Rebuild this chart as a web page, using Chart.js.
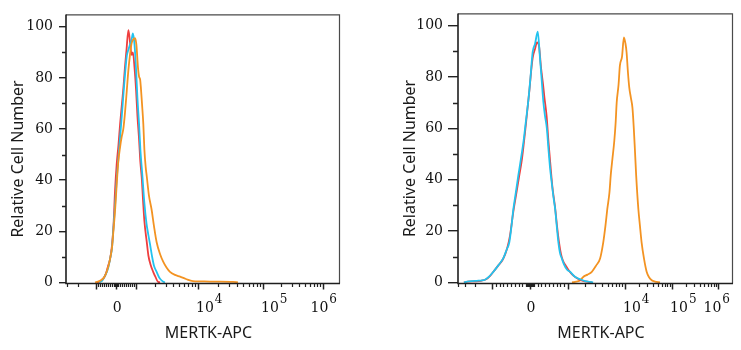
<!DOCTYPE html>
<html>
<head>
<meta charset="utf-8">
<script src="https://cdn.jsdelivr.net/npm/chart.js@4.4.1/dist/chart.umd.min.js"></script>
<style>
  html, body { margin: 0; padding: 0; background: #ffffff; }
  #wrap { position: relative; width: 741px; height: 350px; background: #ffffff; }
  .panel { position: absolute; top: 0; height: 350px; }
</style>
</head>
<body>
<div id="wrap">
  <div class="panel" style="left:0px;width:370px;"><canvas id="cLeft" width="370" height="350"></canvas></div>
  <div class="panel" style="left:370px;width:371px;"><canvas id="cRight" width="371" height="350"></canvas></div>
</div>
<script>
// ---------------- DATA (x = display channel 0..1024, y = % of max) ----------------
const xTitle = "MERTK-APC";
const yTitle = "Relative Cell Number";
const yTickValues = [0, 20, 40, 60, 80, 100];
const yMinorValues = [10, 30, 50, 70, 90];
const xMajorValues = [-1000, 0, 1000, 1e4, 1e5, 1e6];
const xLabelValues = [0, 1e4, 1e5, 1e6];
const xLabelExps = [null, "4", "5", "6"];
// channel positions of 0, 1e3, 1e4, 1e5, 1e6 on each panel's biexponential axis
const leftDecadeCh = [188, 263, 495, 739, 964];
const rightDecadeCh = [269, 411, 624, 800, 972];

// Left panel
const leftRedX = [116,128,139,150,158,165,172,178,184,190,197,203,210,216,221,227,234,238,244,246,251,257,263,268,274,279,284,289,294,303,309,317,327,336,345,353];
const leftRedY = [0,0.3,1.2,3.5,6.5,9,14,22,36,46,54,62,70,77,84,91,98.7,96,90,89,90,84,75,65,56,47,41,32,24,15.7,10.5,7,4.1,2,0.2,0];
const leftCyanX = [124,135,146,158,165,173,177,184,190,197,203,210,218,228,234,240,246,251,257,263,268,274,279,287,294,302,309,315,323,330,340,349,356,365,371];
const leftCyanY = [0,0.6,2.5,5.5,9,14,20,30,40,49,57,66,77,88.5,91,93,95,97.4,93,83,72,62,52,41,31,23,18.5,15,10,6.5,4.1,2,1,0.2,0];
const leftOrangeX = [109,120,131,143,154,165,173,177,184,190,196,203,209,215,221,228,234,240,246,252,259,264,270,274,278,281,285,290,294,299,303,311,321,330,340,353,365,377,390,409,428,450,476,503,540,578,626,645];
const leftOrangeY = [0,0.3,0.8,2,4.5,9,14,19,28,38,47,53,57,60,66,75,83,89,93.5,95,95.5,93,84,80.5,79.4,76,70,62,52,45,41.4,34,28.5,22,15.7,11,8,5.8,4.1,2.9,2.2,1.3,0.5,0.4,0.3,0.3,0.2,0];

// Right panel
const rightRedX = [22,37,64,86,105,120,135,150,168,183,194,206,217,228,239,249,258,267,275,280,288,295,303,310,318,323,331,338,346,353,363,370,377,385,392,404,415,430,448,467,486,501];
const rightRedY = [0,0.3,0.4,0.6,1.2,2.5,4.5,6.5,9,13,18,27,34,41,48,57,66,75,84,88,91,93.5,92,84,77,72,65,55,45,37,29,22,16,11,8.5,6.3,4.5,2.7,1.4,0.6,0.2,0];
const rightCyanX = [22,34,52,71,86,101,116,132,150,169,181,192,200,207,216,225,235,245,254,263,271,279,288,298,306,312,319,325,332,338,344,349,357,363,369,375,381,388,396,407,419,437,456,475,493,505];
const rightCyanY = [0,0.3,0.5,0.6,0.7,1,2.2,4.1,6.5,9.3,12.5,15.7,22,28.6,35,41.4,48,55,63,71,80,89.7,93,97.7,88,80,70.3,65,60,52,44.6,40,33,28.6,22,15.7,11.5,9.3,7,5,4.1,2.2,1.2,0.5,0.2,0];
const rightOrangeX = [426,437,456,468,484,500,516,531,543,551,558,566,571,577,584,589,593,600,605,613,620,626,630,635,640,646,652,657,661,666,674,680,686,695,705,714,724,736,755];
const rightOrangeY = [0,0.2,0.7,2.1,3,4.1,6.5,9.3,15.7,22,28.6,35,42,48,55,62,70,77,84.5,88,95.5,93,89.7,82,76,72,68,60,52,41.4,28.6,22,15.7,9.3,4.1,2,0.8,0.3,0];

// ---------------- STYLE ----------------
const COL_RED = "#ef3e3e";
const COL_CYAN = "#22c3ef";
const COL_ORANGE = "#f39322";

function pts(xs, ys) { return xs.map((x, i) => ({ x: x, y: ys[i] })); }

// biexponential-like position (channel) of a fluorescence value, from the decade anchors
function posOf(v, A) {
  if (v === 0) return A[0];
  const s = Math.sign(v), a = Math.abs(v);
  let off;
  if (a <= 1000) {
    off = (A[1] - A[0]) * a / 1000;
  } else {
    const d = Math.log10(a);
    const i = Math.min(Math.floor(d), 5);
    const base = A[i - 2], next = A[i - 1];
    off = base - A[0] + (next - base) * (d - i);
  }
  return A[0] + s * off;
}

function minorValues() {
  const out = [];
  for (let k = 1; k <= 9; k++) {
    out.push(k * 10, -k * 10, k * 100, -k * 100);
  }
  for (let k = 2; k <= 9; k++) {
    out.push(k * 1000, -k * 1000, k * 1e4, k * 1e5);
  }
  return out;
}

function axisPlugin(cfg) {
  return {
    id: "flowAxes",
    afterDraw(chart) {
      const ctx = chart.ctx;
      const area = chart.chartArea;
      const xs = chart.scales.x, ys = chart.scales.y;
      ctx.save();
      // frame
      ctx.strokeStyle = "#4a4a4a";
      ctx.lineWidth = 1.2;
      ctx.beginPath();
      ctx.moveTo(area.left, area.top + 0.5);
      ctx.lineTo(area.right + 0.5, area.top + 0.5);
      ctx.lineTo(area.right + 0.5, area.bottom);
      ctx.stroke();
      ctx.strokeStyle = "#1e1e1e";
      ctx.lineWidth = 1.6;
      ctx.beginPath();
      ctx.moveTo(area.left, area.top);
      ctx.lineTo(area.left, area.bottom);
      ctx.lineTo(area.right + 1, area.bottom);
      ctx.stroke();

      // y minor ticks
      ctx.lineWidth = 1.3;
      ctx.strokeStyle = "#222";
      ctx.beginPath();
      yMinorValues.forEach(v => {
        const py = Math.round(ys.getPixelForValue(v)) + 0.5;
        ctx.moveTo(area.left - cfg.yMinorLen, py);
        ctx.lineTo(area.left, py);
      });
      ctx.stroke();

      // x ticks
      const drawX = (vals, len) => {
        ctx.beginPath();
        vals.forEach(v => {
          const px = xs.getPixelForValue(posOf(v, cfg.anchors));
          if (px < area.left - 0.5 || px > area.right + 0.5) return;
          const rx = Math.round(px) + 0.5;
          ctx.moveTo(rx, area.bottom);
          ctx.lineTo(rx, area.bottom + len);
        });
        ctx.stroke();
      };
      ctx.lineWidth = 1.2;
      drawX(minorValues(), 3.5);
      ctx.lineWidth = 1.5;
      drawX(xMajorValues, 6);

      // x labels
      ctx.fillStyle = "#111";
      ctx.textBaseline = "middle";
      const baseFont = '14px "DejaVu Serif"';
      const expFont = '12px "DejaVu Serif"';
      const ly = 308;
      xLabelValues.forEach((v, i) => {
        const px = xs.getPixelForValue(posOf(v, cfg.anchors));
        if (xLabelExps[i] === null) {
          ctx.font = baseFont;
          ctx.textAlign = "center";
          ctx.fillText("0", px + 1, ly);
        } else {
          ctx.font = baseFont;
          const w1 = ctx.measureText("10").width;
          ctx.font = expFont;
          const w2 = ctx.measureText(xLabelExps[i]).width;
          let lx = px - 2;
          if (lx + w1 + w2 + 1 > area.right - 2) lx = area.right - 2 - w1 - w2 - 1;
          ctx.textAlign = "left";
          ctx.font = baseFont;
          ctx.fillText("10", lx, ly);
          ctx.font = expFont;
          ctx.fillText(xLabelExps[i], lx + w1 + 1, ly - 8);
        }
      });

      // axis titles
      ctx.fillStyle = "#1a1a1a";
      ctx.font = '16px "Noto Sans"';
      ctx.textAlign = "center";
      ctx.textBaseline = "middle";
      ctx.fillText(xTitle, (area.left + area.right) / 2 + 6, 333);
      ctx.translate(area.left - 48, (area.top + area.bottom) / 2 + 10);
      ctx.rotate(-Math.PI / 2);
      ctx.fillText(yTitle, 0, 0);
      ctx.restore();
    }
  };
}

function makeChart(id, series, cfg) {
  const ctx = document.getElementById(id).getContext("2d");
  return new Chart(ctx, {
    type: "line",
    data: {
      datasets: series.map(s => ({
        data: pts(s.x, s.y),
        borderColor: s.color,
        borderWidth: 1.8,
        pointRadius: 0,
        fill: false,
        cubicInterpolationMode: "monotone",
        order: s.order
      }))
    },
    options: {
      responsive: false,
      animation: false,
      devicePixelRatio: 1,
      layout: { padding: { left: 0, right: cfg.padRight, top: 11, bottom: 0 } },
      plugins: { legend: { display: false }, tooltip: { enabled: false } },
      scales: {
        x: {
          type: "linear", min: 0, max: 1024,
          ticks: { display: false },
          grid: { display: false },
          border: { display: false },
          afterFit: s => { s.height = 66.5; }
        },
        y: {
          type: "linear", min: -0.46, max: 104.83,
          afterBuildTicks: s => { s.ticks = yTickValues.map(v => ({ value: v })); },
          ticks: { font: { family: "DejaVu Serif", size: 14 }, color: "#111", padding: cfg.yPad },
          grid: { display: true, drawOnChartArea: false, drawTicks: true, tickLength: cfg.yTickLen, color: "#222", lineWidth: 1.4 },
          border: { display: false },
          afterFit: s => { s.width = cfg.yWidth; }
        }
      }
    },
    plugins: [axisPlugin(cfg)]
  });
}

makeChart("cLeft", [
  { x: leftRedX, y: leftRedY, color: COL_RED, order: 3 },
  { x: leftCyanX, y: leftCyanY, color: COL_CYAN, order: 2 },
  { x: leftOrangeX, y: leftOrangeY, color: COL_ORANGE, order: 1 }
], { anchors: leftDecadeCh, padRight: 31, yWidth: 66, yTickLen: 7, yMinorLen: 4, yPad: 6 });

makeChart("cRight", [
  { x: rightRedX, y: rightRedY, color: COL_RED, order: 2 },
  { x: rightCyanX, y: rightCyanY, color: COL_CYAN, order: 1 },
  { x: rightOrangeX, y: rightOrangeY, color: COL_ORANGE, order: 3 }
], { anchors: rightDecadeCh, padRight: 9, yWidth: 88, yTickLen: 10, yMinorLen: 5, yPad: 5 });
</script>
</body>
</html>
